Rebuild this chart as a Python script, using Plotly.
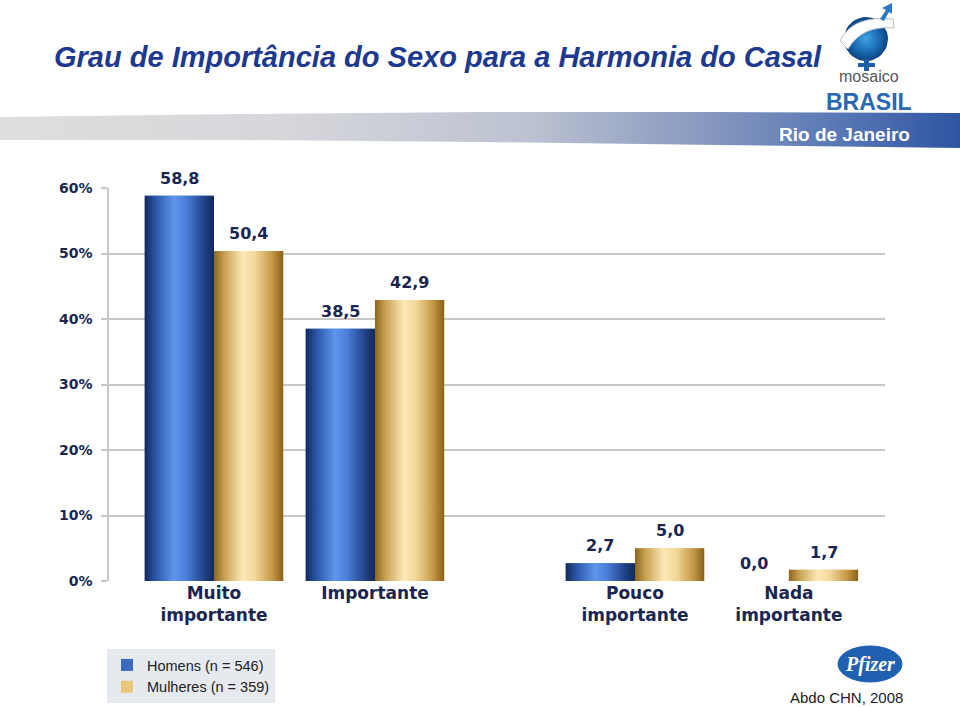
import math
import plotly.graph_objects as go

# ---------------- data ----------------
categories = ["Muito<br>importante", "Importante", "Pouco<br>importante", "Nada<br>importante"]
homens = [58.8, 38.5, 2.7, 0.0]
mulheres = [50.4, 42.9, 5.0, 1.7]
series_names = ["Homens (n = 546)", "Mulheres (n = 359)"]
y_ticks = [0, 10, 20, 30, 40, 50, 60]
y_tick_labels = ["0%", "10%", "20%", "30%", "40%", "50%", "60%"]

# ---------------- layout helpers ----------------
cat_pos = [0.0, 1.0, 2.615, 3.571]   # category centres on the x axis
bw = 0.43                            # bar width
W, H = 960, 707
NAVY = "#1b2650"

blue_scale = [[0, "#132a5c"], [0.15, "#2a55a6"], [0.42, "#5f95ec"], [0.6, "#4a7ed8"],
              [0.85, "#22438a"], [1, "#122859"]]
gold_scale = [[0, "#8c661c"], [0.15, "#c8a153"], [0.42, "#fde9b6"], [0.6, "#f2d698"],
              [0.85, "#c29542"], [1, "#886016"]]

fig = go.Figure()

# base bars (data + legend)
fig.add_trace(go.Bar(x=cat_pos, y=homens, width=bw, offset=-bw, name=series_names[0],
                     marker=dict(color="#3a69c0", line=dict(width=0)),
                     hoverinfo="y"))
fig.add_trace(go.Bar(x=cat_pos, y=mulheres, width=bw, offset=0, name=series_names[1],
                     marker=dict(color="#e8c77a", line=dict(width=0)),
                     hoverinfo="y"))

# cylindrical gradient overlay for each bar, built from the same values
for vals, off, scale in [(homens, -bw, blue_scale), (mulheres, 0.0, gold_scale)]:
    for p, v in zip(cat_pos, vals):
        if v <= 0:
            continue
        x0, x1 = p + off, p + off + bw
        fig.add_trace(go.Scatter(
            x=[x0, x0, x1, x1, x0], y=[0, v, v, 0, 0], mode="lines",
            line=dict(width=0), fill="toself",
            fillgradient=dict(type="horizontal", colorscale=scale),
            showlegend=False, hoverinfo="skip"))

# value labels
for vals, dx in [(homens, -bw / 2), (mulheres, bw / 2)]:
    for p, v in zip(cat_pos, vals):
        fig.add_annotation(x=p + dx, y=v, xref="x", yref="y", text=f"{v:.1f}".replace(".", ","),
                           showarrow=False, yanchor="bottom", yshift=6,
                           font=dict(family="DejaVu Sans", size=16, color=NAVY, weight="bold"))

# ---------------- decorations (pixel overlay axes) ----------------
band_x = [0, 240, 480, 720, 960, 960, 720, 480, 240, 0, 0]
band_y = [117, 114, 112, 112, 113, 148, 145, 142, 140, 140, 117]
fig.add_trace(go.Scatter(
    x=band_x, y=band_y, xaxis="x2", yaxis="y2", mode="lines", line=dict(width=0),
    fill="toself",
    fillgradient=dict(type="horizontal", colorscale=[[0, "#dedede"], [0.3, "#d6d7db"],
                                                     [0.55, "#bcc2d1"], [0.75, "#8395be"],
                                                     [0.88, "#5676b4"], [1, "#2f55a2"]]),
    showlegend=False, hoverinfo="skip"))

# mosaico brasil globe
fig.add_trace(go.Scatter(
    x=[866 + 22 * math.cos(t / 40 * 2 * math.pi) for t in range(41)],
    y=[39 + 22 * math.sin(t / 40 * 2 * math.pi) for t in range(41)],
    xaxis="x2", yaxis="y2", mode="lines", line=dict(width=0), fill="toself",
    fillgradient=dict(type="radial", colorscale=[[0, "#3fa2e2"], [0.6, "#1a6cb5"], [1, "#0d437f"]]),
    showlegend=False, hoverinfo="skip"))

shapes = [
    # white swoosh over the globe
    dict(type="path", xref="x2", yref="y2",
         path="M 840,41 Q 852,15 893,19 L 894,28 Q 862,25 848,49 Z",
         fillcolor="white", line=dict(color="#b8bcc4", width=1)),
    # arrow (male symbol)
    dict(type="path", xref="x2", yref="y2",
         path="M 880,19 L 886,10 L 882,8 L 892,3 L 892,14 L 889,12 L 884,21 Z",
         fillcolor="#2a78c8", line=dict(width=0)),
    # female cross
    dict(type="rect", xref="x2", yref="y2", x0=864, x1=869, y0=59, y1=71,
         fillcolor="#1a5fa8", line=dict(width=0)),
    dict(type="rect", xref="x2", yref="y2", x0=858, x1=875, y0=63, y1=67,
         fillcolor="#1a5fa8", line=dict(width=0)),
    # pfizer ellipse
    dict(type="circle", xref="x2", yref="y2", x0=838, x1=902, y0=646, y1=682,
         fillcolor="#1f60b0", line=dict(color="#1f60b0", width=1)),
]

annotations = [
    dict(x=52, y=57, xref="x2", yref="y2", text="Grau de Importância do Sexo para a Harmonia do Casal",
         showarrow=False, xanchor="left", yanchor="middle",
         font=dict(family="Liberation Sans", size=29, color="#1e3a8f",
                   style="italic", weight="bold")),
    dict(x=912, y=134, xref="x2", yref="y2", text="Rio de Janeiro", showarrow=False,
         xanchor="right", yanchor="middle",
         font=dict(family="Liberation Sans", size=19, color="white", weight="bold")),
    dict(x=869, y=76, xref="x2", yref="y2", text="mosaico", showarrow=False,
         xanchor="center", yanchor="middle",
         font=dict(family="Liberation Sans", size=16, color="#555555")),
    dict(x=869, y=102, xref="x2", yref="y2", text="BRASIL", showarrow=False,
         xanchor="center", yanchor="middle",
         font=dict(family="Liberation Sans", size=23, color="#2b68b3", weight="bold")),
    dict(x=870, y=664, xref="x2", yref="y2", text="Pfizer", showarrow=False,
         xanchor="center", yanchor="middle",
         font=dict(family="Liberation Serif", size=20, color="white", weight="bold", style="italic")),
    dict(x=905, y=697, xref="x2", yref="y2", text="Abdo CHN, 2008", showarrow=False,
         xanchor="right", yanchor="middle",
         font=dict(family="Liberation Sans", size=15, color="#222222")),
]
for a in annotations:
    fig.add_annotation(**a)

fig.update_layout(
    width=W, height=H, margin=dict(l=0, r=0, t=0, b=0),
    paper_bgcolor="white", plot_bgcolor="rgba(0,0,0,0)",
    barmode="overlay", shapes=shapes,
    xaxis=dict(domain=[109 / W, 885 / W], range=[-0.652, 4.168], tickmode="array",
               tickvals=cat_pos, ticktext=categories, showgrid=False, zeroline=False,
               showline=False, ticks="", automargin=False, fixedrange=True,
               tickfont=dict(family="DejaVu Sans", size=17, color=NAVY, weight="bold")),
    yaxis=dict(domain=[1 - 581 / H, 1 - 188 / H], range=[0, 60], tickmode="array",
               tickvals=y_ticks, ticktext=y_tick_labels, showgrid=True, gridcolor="#c8c8c8",
               gridwidth=1.5, zeroline=False, showline=True, linecolor="#c8c8c8", linewidth=1.5,
               ticks="outside", ticklen=6, tickcolor="#c8c8c8", tickwidth=1.5,
               ticklabelstandoff=6, automargin=False, fixedrange=True,
               tickfont=dict(family="DejaVu Sans", size=14, color=NAVY, weight="bold")),
    xaxis2=dict(domain=[0, 1], range=[0, W], visible=False, anchor="y2", fixedrange=True),
    yaxis2=dict(domain=[0, 1], range=[H, 0], visible=False, anchor="x2", fixedrange=True),
    legend=dict(x=107 / W, y=1 - 649 / H, xanchor="left", yanchor="top",
                bgcolor="#e6e9ee", borderwidth=0, tracegroupgap=0, itemwidth=30,
                font=dict(family="Liberation Sans", size=14.5, color="#222222")),
    showlegend=True,
)

fig.write_html("out.html")
